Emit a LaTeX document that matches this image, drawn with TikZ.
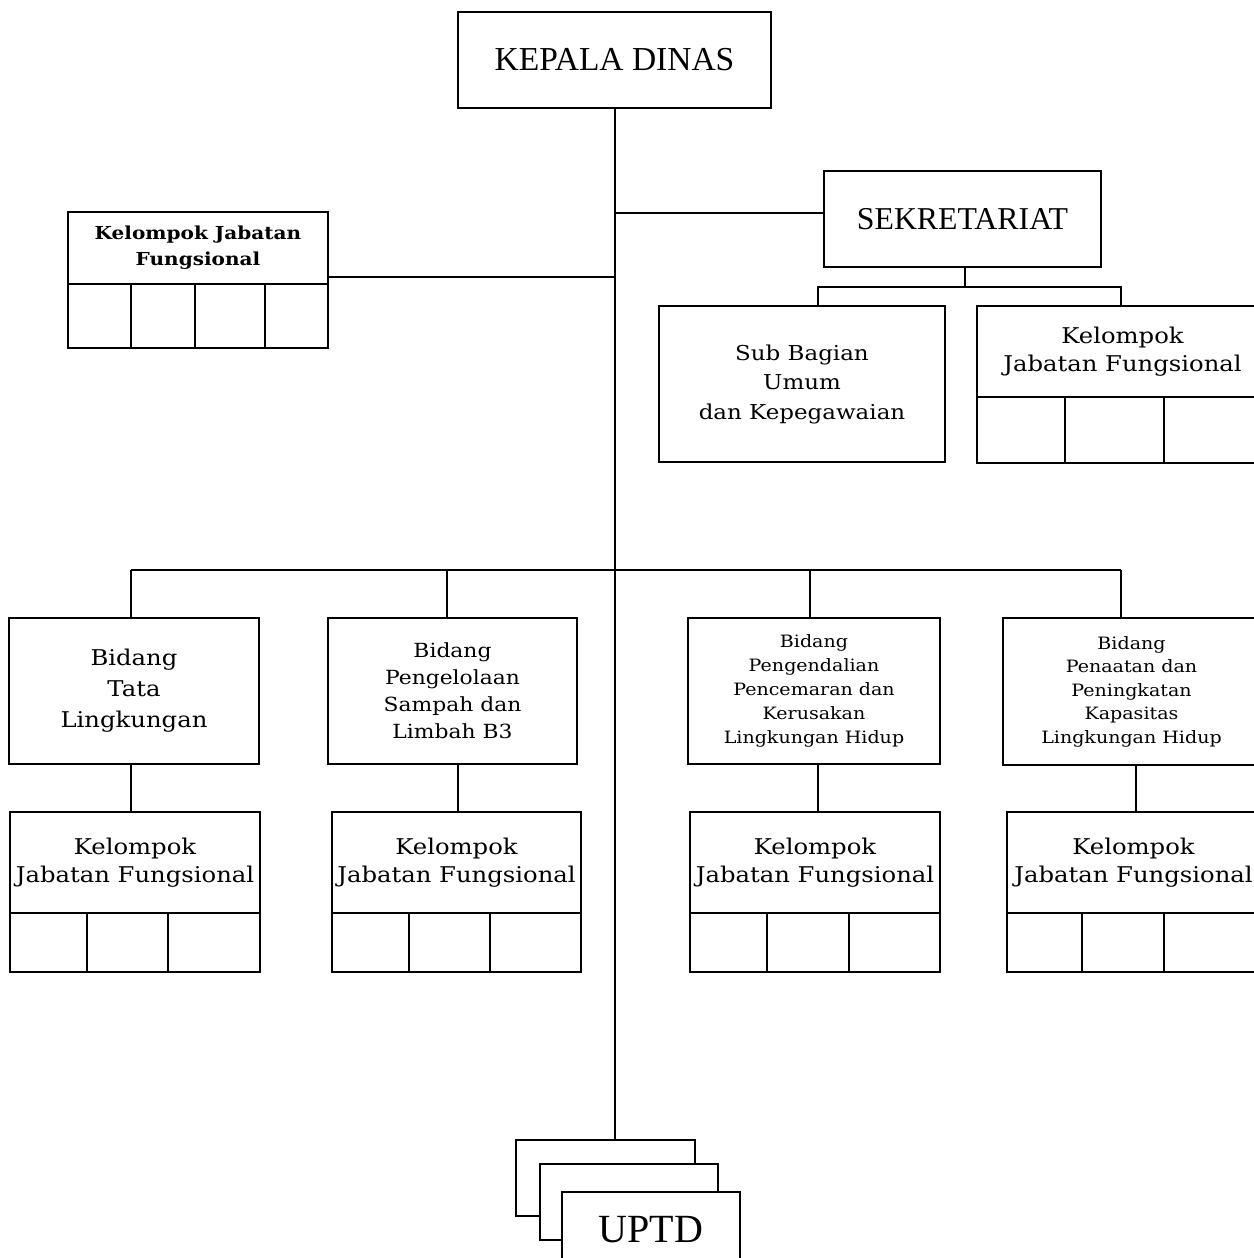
\documentclass[tikz,border=0pt]{standalone}
\usepackage{fontspec}
\setmainfont{DejaVu Serif}[FakeStretch=1.12]
\newfontfamily\titlefont{Liberation Serif}
\begin{document}
\begin{tikzpicture}[x=1pt,y=-1pt,
  box/.style={draw, line width=2pt, inner sep=0pt, align=center, fill=white},
  conn/.style={line width=2pt},
  fs/.style 2 args={font=\fontsize{#1}{#2}\selectfont}]
\useasboundingbox (0,0) rectangle (1253,1258);

% top level
\node[box, minimum width=313, minimum height=96, font=\titlefont\fontsize{33.5}{38}\selectfont]
  (kd) at (614.5,60) {KEPALA DINAS};
\node[box, minimum width=277, minimum height=96, font=\titlefont\fontsize{31.8}{36}\selectfont]
  (sek) at (962.5,219) {SEKRETARIAT};

% left functional group (bold)
\node[box, minimum width=260, minimum height=72, font=\bfseries\fontsize{17.9}{26}\selectfont]
  (klh) at (198,248) {Kelompok Jabatan\\Fungsional};
\node[box, minimum width=260, minimum height=64] (klc) at (198,316) {};
\draw[conn] (131,284) -- (131,348) (195,284) -- (195,348) (265,284) -- (265,348);

% secretariat children
\node[box, minimum width=286, minimum height=156, fs={20.5}{29.5}]
  (sub) at (802,384) {Sub Bagian\\Umum\\dan Kepegawaian};
\node[box, minimum width=291, minimum height=91, fs={21.7}{28}]
  (krh) at (1122.5,351.5) {Kelompok\\Jabatan Fungsional};
\node[box, minimum width=291, minimum height=66] (krc) at (1122.5,430) {};
\draw[conn] (1065,397) -- (1065,463) (1164,397) -- (1164,463);

% fields
\node[box, minimum width=250, minimum height=146, fs={21.7}{31}]
  (b1) at (134,691) {Bidang\\Tata\\Lingkungan};
\node[box, minimum width=249, minimum height=146, fs={19.5}{27}]
  (b2) at (452.5,691) {Bidang\\Pengelolaan\\Sampah dan\\Limbah B3};
\node[box, minimum width=252, minimum height=146, fs={17}{24.2}]
  (b3) at (814,691) {Bidang\\Pengendalian\\Pencemaran dan\\Kerusakan\\Lingkungan Hidup};
\node[box, minimum width=257, minimum height=147, fs={17}{23.5}]
  (b4) at (1131.5,691.5) {Bidang\\Penaatan dan\\Peningkatan\\Kapasitas\\Lingkungan Hidup};

% functional groups under the fields
\foreach \n/\cx/\w in {k1/135/250, k2/456.5/249, k3/815/250, k4/1133.5/253}{
  \node[box, minimum width=\w, minimum height=101, fs={21.7}{28}]
    (\n h) at (\cx,862.5) {Kelompok\\Jabatan Fungsional};
  \node[box, minimum width=\w, minimum height=59] (\n c) at (\cx,942.5) {};
}
\foreach \xa/\xb in {87/168, 409/490, 767/849, 1082/1164}{
  \draw[conn] (\xa,913) -- (\xa,972) (\xb,913) -- (\xb,972);
}

% UPTD stack
\node[box, minimum width=179, minimum height=76] (u1) at (605.5,1178) {};
\node[box, minimum width=178, minimum height=76] (u2) at (629,1202) {};
\node[box, minimum width=178, minimum height=76, font=\titlefont\fontsize{40}{46}\selectfont]
  (u3) at (651,1230) {UPTD};

% reference points of the connectors
\coordinate (jl) at (0,277);
\coordinate (js) at (0,213);
\coordinate (sb) at (0,287);
\coordinate (bus) at (0,570);
\foreach \n/\x in {m/615, s0/965, s1/818, s2/1121, d1/131, d2/447, d3/810, d4/1121, e1/131, e2/458, e3/818, e4/1136}{
  \coordinate (\n) at (\x,0);
}

% connectors
\draw[conn] (m |- kd.south) -- (m |- u1.north);
\draw[conn] (klh.east |- jl) -- (m |- jl);
\draw[conn] (m |- js) -- (sek.west |- js);
\draw[conn] (s0 |- sek.south) -- (s0 |- sb);
\draw[conn] (s1 |- sub.north) -- (s1 |- sb) -- (s2 |- sb) -- (s2 |- krh.north);
\draw[conn] (d1 |- bus) -- (d4 |- bus);
\draw[conn] (d1 |- bus) -- (d1 |- b1.north);
\draw[conn] (d2 |- bus) -- (d2 |- b2.north);
\draw[conn] (d3 |- bus) -- (d3 |- b3.north);
\draw[conn] (d4 |- bus) -- (d4 |- b4.north);
\draw[conn] (e1 |- b1.south) -- (e1 |- k1h.north);
\draw[conn] (e2 |- b2.south) -- (e2 |- k2h.north);
\draw[conn] (e3 |- b3.south) -- (e3 |- k3h.north);
\draw[conn] (e4 |- b4.south) -- (e4 |- k4h.north);
\end{tikzpicture}
\end{document}
